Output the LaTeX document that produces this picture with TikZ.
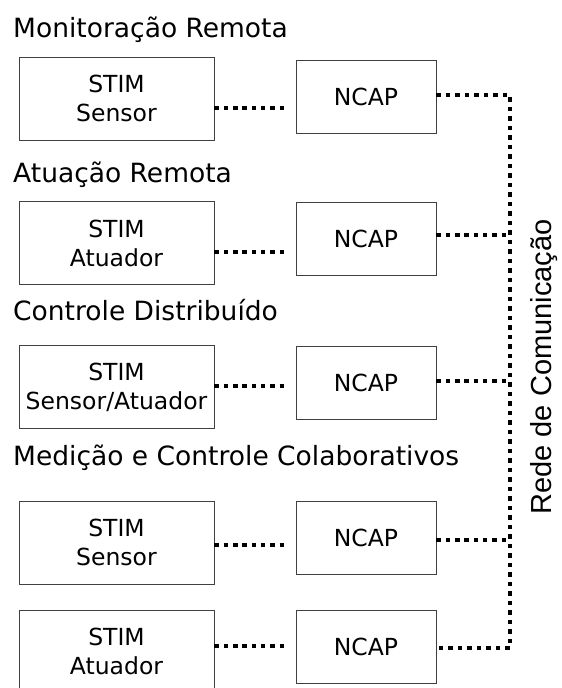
\documentclass[tikz,border=0pt]{standalone}
\usepackage{fontspec}
\setmainfont{DejaVu Sans}
\newfontfamily\netfont{Liberation Sans}
\begin{document}
\begin{tikzpicture}[x=1pt,y=-1pt,
  title/.style={anchor=base west, inner sep=0pt, font=\fontsize{26.5}{30}\selectfont},
  stimbox/.style={draw=black!75, line width=0.9pt, minimum width=195pt, minimum height=83pt, inner sep=0pt, align=center, font=\fontsize{23.5}{29}\selectfont},
  ncapbox/.style={draw=black!75, line width=0.9pt, minimum width=140pt, minimum height=73pt, inner sep=0pt, font=\fontsize{23.5}{29}\selectfont},
  dotline/.style={line width=4pt, dash pattern=on 4.5pt off 4.8pt, black},
  netline/.style={line width=4pt, dash pattern=on 4.5pt off 5pt, black}]
\useasboundingbox (0,0) rectangle (562,688);
\clip (0,0) rectangle (562,688);
% titles
\node[title] (t1) at (13,37) {Monitoração Remota};
\node[title] (t2) at (13,182) {Atuação Remota};
\node[title] (t3) at (13,320) {Controle Distribuído};
\node[title] (t4) at (13,465) {Medição e Controle Colaborativos};
% boxes
\node[stimbox] (s1) at (116.5,98.5) {STIM\\Sensor};
\node[ncapbox] (n1) at (366,96.5) {NCAP};
\node[stimbox] (s2) at (116.5,243) {STIM\\Atuador};
\node[ncapbox] (n2) at (366,238.5) {NCAP};
\node[stimbox] (s3) at (116.5,387) {STIM\\Sensor/Atuador};
\node[ncapbox] (n3) at (366,383) {NCAP};
\node[stimbox] (s4) at (116.5,542.5) {STIM\\Sensor};
\node[ncapbox] (n4) at (366,538) {NCAP};
\node[stimbox] (s5) at (116.5,651.5) {STIM\\Atuador};
\node[ncapbox] (n5) at (366,646.5) {NCAP};
% STIM - NCAP levels
\coordinate (a1) at (0,108);
\coordinate (a2) at (0,252);
\coordinate (a3) at (0,386);
\coordinate (a4) at (0,545);
\coordinate (a5) at (0,646);
\foreach \i in {1,...,5}{
  \draw[dotline, shorten >=9pt] (s\i.east |- a\i) -- (n\i.west |- a\i);
}
% network junctions
\coordinate (j1) at (510,95);
\coordinate (j2) at (510,235);
\coordinate (j3) at (510,381);
\coordinate (j4) at (510,540);
\coordinate (j5) at (510,648);
\draw[netline] (n1.east |- j1) -- (j1) -- (j5) -- (n5.east |- j5);
\draw[dotline] (n2.east |- j2) -- (j2);
\draw[dotline] (n3.east |- j3) -- (j3);
\draw[dotline] (n4.east |- j4) -- (j4);
% label
\node[rotate=90, anchor=base, inner sep=0pt, font=\netfont\fontsize{29}{30}\selectfont] (net) at (551,367) {Rede de Comunicação};
\end{tikzpicture}
\end{document}
